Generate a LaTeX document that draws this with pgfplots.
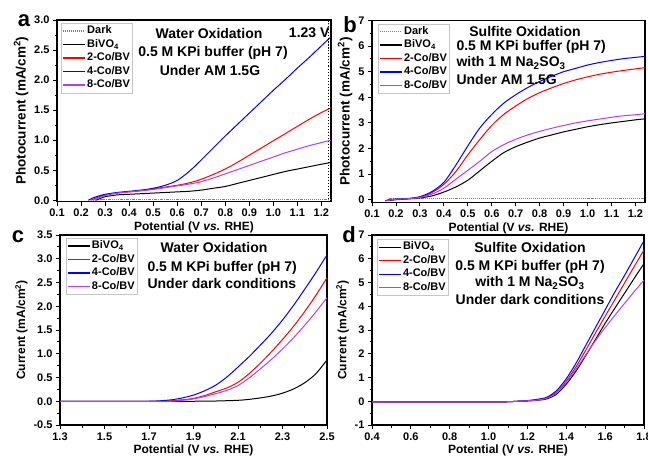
\documentclass[border=0pt]{standalone}
\usepackage{fontspec}
\setmainfont{Liberation Sans}
\usepackage{pgfplots}
\pgfplotsset{compat=1.18}
\definecolor{vio}{RGB}{180,60,255}
\pgfplotsset{
  legend image code/.code={\draw[#1, line width=1.3pt] (0pt,0pt) -- (22pt,0pt);},
  sDark/.style={draw=gray, densely dotted, no marks},
  sBi/.style={draw=black, no marks},
  sTwo/.style={draw=red, no marks},
  sFour/.style={draw=blue, no marks},
  sEight/.style={draw=vio, no marks},
  panel/.style={
    scale only axis, anchor=south west,
    axis line style={line width=1.3pt},
    tick style={line width=0.9pt, black},
    major tick length=4pt, minor tick length=2.5pt,
    tick align=outside, xtick pos=bottom, ytick pos=left,
    /pgf/number format/assume math mode=true,
    tick label style={font=\bfseries\fontsize{11}{12}\selectfont},
    label style={font=\bfseries\fontsize{12}{14}\selectfont},
    legend cell align=left,
    legend style={draw=gray!45, line width=0.6pt, font=\bfseries\fontsize{11}{12}\selectfont,
      anchor=north west, inner sep=1pt, row sep=0pt,
      nodes={inner sep=1.5pt, text height=8pt, text depth=2.5pt}},
    every axis plot/.append style={line width=1pt, smooth},
    ylabel style={yshift=-1pt},
    xlabel style={yshift=2pt},
  },
  onedec/.style={/pgf/number format/.cd, fixed, fixed zerofill, precision=1},
}
\newcommand{\ann}{\bfseries\fontsize{14}{16}\selectfont}
\newcommand{\lett}{\bfseries\fontsize{22}{24}\selectfont}
\begin{document}
\begin{tikzpicture}[x=1pt,y=1pt]
\useasboundingbox (0,0) rectangle (648,456);

% ---- a ----
\begin{axis}[panel, at={(57pt,254.5pt)}, width=274pt, height=181.5pt,
  xmin=0.1, xmax=1.24, ymin=-0.02, ymax=3,
  xtick={0.1,0.2,...,1.21}, ytick={0,0.5,...,3}, minor y tick num=1,
  xticklabel style={onedec}, yticklabel style={onedec},
  xlabel={Potential (V \textit{vs.} RHE)},
  ylabel={Photocurrent (mA/cm\textsuperscript{2})},
  ylabel style={font=\bfseries\fontsize{13.5}{15}\selectfont},
  legend style={at={(0.015,0.983)}}]
\addplot[sDark] coordinates {(0.28,0.015) (0.6,0.015) (1.0,0.015) (1.24,0.015)};
\addlegendentry{Dark}
\addplot[sBi] coordinates {(0.26,0) (0.28,0.03) (0.3,0.06) (0.35,0.09) (0.4,0.1) (0.45,0.11) (0.5,0.12) (0.55,0.13) (0.6,0.14) (0.65,0.15) (0.7,0.17) (0.75,0.2) (0.8,0.23) (0.85,0.28) (0.9,0.33) (0.95,0.38) (1.0,0.43) (1.05,0.48) (1.1,0.52) (1.15,0.56) (1.2,0.6) (1.24,0.63)};
\addlegendentry{BiVO\textsubscript{4}}
\addplot[sTwo] coordinates {(0.24,0) (0.27,0.05) (0.3,0.09) (0.35,0.12) (0.4,0.14) (0.45,0.16) (0.5,0.19) (0.55,0.22) (0.6,0.25) (0.65,0.29) (0.7,0.35) (0.75,0.43) (0.8,0.52) (0.85,0.63) (0.9,0.75) (0.95,0.87) (1.0,0.99) (1.05,1.11) (1.1,1.23) (1.15,1.35) (1.2,1.46) (1.24,1.54)};
\addlegendentry{2-Co/BV}
\addplot[sFour] coordinates {(0.23,0) (0.25,0.04) (0.28,0.08) (0.3,0.1) (0.35,0.13) (0.4,0.15) (0.45,0.17) (0.5,0.2) (0.55,0.25) (0.6,0.33) (0.65,0.48) (0.7,0.67) (0.75,0.87) (0.8,1.07) (0.85,1.26) (0.9,1.45) (0.95,1.64) (1.0,1.83) (1.05,2.01) (1.1,2.2) (1.15,2.38) (1.2,2.57) (1.24,2.72)};
\addlegendentry{4-Co/BV}
\addplot[sEight] coordinates {(0.25,0) (0.28,0.05) (0.3,0.08) (0.35,0.12) (0.4,0.14) (0.45,0.16) (0.5,0.18) (0.55,0.21) (0.6,0.24) (0.65,0.27) (0.7,0.31) (0.75,0.37) (0.8,0.44) (0.85,0.51) (0.9,0.58) (0.95,0.65) (1.0,0.72) (1.05,0.79) (1.1,0.85) (1.15,0.91) (1.2,0.96) (1.24,1.0)};
\addlegendentry{8-Co/BV}
\addplot[black, dotted, line width=1pt, no marks, forget plot] coordinates {(1.23,-0.02) (1.23,3)};
\end{axis}

% ---- b ----
\begin{axis}[panel, at={(372pt,253.7pt)}, width=273pt, height=181.8pt,
  xmin=0.1, xmax=1.24, ymin=-0.1, ymax=7,
  xtick={0.1,0.2,...,1.21}, ytick={0,1,...,7}, minor y tick num=1,
  xticklabel style={onedec},
  xlabel={Potential (V \textit{vs.} RHE)},
  ylabel={Photocurrent (mA/cm\textsuperscript{2})},
  ylabel style={font=\bfseries\fontsize{13.5}{15}\selectfont},
  legend style={at={(0.022,0.983)}}]
\addplot[sDark] coordinates {(0.17,0.04) (0.6,0.04) (1.0,0.04) (1.24,0.04)};
\addlegendentry{Dark}
\addplot[sBi] coordinates {(0.17,-0.03) (0.2,0.0) (0.25,0.03) (0.3,0.07) (0.35,0.15) (0.4,0.3) (0.45,0.5) (0.5,0.76) (0.55,1.13) (0.6,1.5) (0.65,1.84) (0.7,2.07) (0.75,2.25) (0.8,2.41) (0.85,2.53) (0.9,2.65) (0.95,2.75) (1.0,2.85) (1.05,2.93) (1.1,3.0) (1.15,3.06) (1.2,3.12) (1.24,3.16)};
\addlegendentry{BiVO\textsubscript{4}}
\addplot[sTwo] coordinates {(0.16,-0.03) (0.2,0.02) (0.25,0.04) (0.3,0.1) (0.35,0.28) (0.4,0.6) (0.45,1.1) (0.5,1.75) (0.55,2.35) (0.6,2.9) (0.65,3.33) (0.7,3.66) (0.75,3.95) (0.8,4.18) (0.85,4.37) (0.9,4.54) (0.95,4.68) (1.0,4.8) (1.05,4.9) (1.1,4.98) (1.15,5.05) (1.2,5.11) (1.24,5.16)};
\addlegendentry{2-Co/BV}
\addplot[sFour] coordinates {(0.155,-0.05) (0.17,0.0) (0.2,0.03) (0.25,0.05) (0.3,0.12) (0.35,0.32) (0.4,0.68) (0.45,1.35) (0.5,2.1) (0.55,2.8) (0.6,3.33) (0.65,3.77) (0.7,4.1) (0.75,4.38) (0.8,4.62) (0.85,4.82) (0.9,5.0) (0.95,5.13) (1.0,5.26) (1.05,5.36) (1.1,5.44) (1.15,5.51) (1.2,5.56) (1.24,5.6)};
\addlegendentry{4-Co/BV}
\addplot[sEight] coordinates {(0.16,-0.03) (0.2,0.02) (0.25,0.04) (0.3,0.09) (0.35,0.22) (0.4,0.45) (0.45,0.8) (0.5,1.15) (0.55,1.5) (0.6,1.88) (0.65,2.15) (0.7,2.36) (0.75,2.53) (0.8,2.67) (0.85,2.79) (0.9,2.9) (0.95,3.0) (1.0,3.08) (1.05,3.15) (1.1,3.22) (1.15,3.28) (1.2,3.32) (1.24,3.36)};
\addlegendentry{8-Co/BV}
\end{axis}

% ---- c ----
\begin{axis}[panel, at={(60pt,31pt)}, width=267pt, height=190pt,
  xmin=1.3, xmax=2.5, ymin=-0.5, ymax=3.5,
  xtick={1.3,1.5,...,2.51}, ytick={-0.5,0,...,3.5}, minor x tick num=1, minor y tick num=1,
  xticklabel style={onedec}, yticklabel style={onedec},
  xlabel={Potential (V \textit{vs.} RHE)}, ylabel={Current (mA/cm\textsuperscript{2})},
  legend style={at={(0.022,0.985)}}]
\addplot[sBi] coordinates {(1.3,0) (1.6,0) (1.9,0) (2.0,0.005) (2.1,0.02) (2.15,0.04) (2.2,0.07) (2.25,0.11) (2.3,0.17) (2.35,0.26) (2.4,0.39) (2.45,0.58) (2.5,0.87)};
\addlegendentry{BiVO\textsubscript{4}}
\addplot[sTwo] coordinates {(1.3,0) (1.6,0) (1.75,0.0) (1.8,0.01) (1.85,0.03) (1.9,0.06) (1.95,0.12) (2.0,0.2) (2.05,0.28) (2.1,0.4) (2.15,0.58) (2.2,0.8) (2.25,1.04) (2.3,1.3) (2.35,1.58) (2.4,1.89) (2.45,2.23) (2.5,2.6)};
\addlegendentry{2-Co/BV}
\addplot[sFour] coordinates {(1.3,0) (1.6,0) (1.7,0.0) (1.75,0.01) (1.8,0.03) (1.85,0.07) (1.9,0.13) (1.95,0.22) (2.0,0.34) (2.05,0.51) (2.1,0.72) (2.15,0.94) (2.2,1.18) (2.25,1.43) (2.3,1.71) (2.35,2.02) (2.4,2.36) (2.45,2.71) (2.5,3.08)};
\addlegendentry{4-Co/BV}
\addplot[sEight] coordinates {(1.3,0) (1.6,0) (1.8,0.0) (1.85,0.02) (1.9,0.05) (1.95,0.1) (2.0,0.16) (2.05,0.23) (2.1,0.33) (2.15,0.49) (2.2,0.68) (2.25,0.88) (2.3,1.1) (2.35,1.34) (2.4,1.6) (2.45,1.88) (2.5,2.18)};
\addlegendentry{8-Co/BV}
\end{axis}

% ---- d ----
\begin{axis}[panel, at={(372pt,31pt)}, width=272pt, height=190pt,
  xmin=0.4, xmax=1.8, ymin=-1, ymax=7,
  xtick={0.4,0.6,...,1.81}, ytick={-1,0,...,7}, minor x tick num=1, minor y tick num=1,
  xticklabel style={onedec},
  xlabel={Potential (V \textit{vs.} RHE)}, ylabel={Current (mA/cm\textsuperscript{2})},
  legend style={at={(0.018,0.978)}}]
\addplot[sBi] coordinates {(0.4,-0.03) (0.8,-0.03) (1.0,-0.03) (1.1,-0.02) (1.15,0.0) (1.2,0.01) (1.25,0.04) (1.3,0.1) (1.35,0.3) (1.4,0.72) (1.45,1.27) (1.5,1.92) (1.55,2.6) (1.6,3.28) (1.65,3.92) (1.7,4.55) (1.75,5.18) (1.8,5.8)};
\addlegendentry{BiVO\textsubscript{4}}
\addplot[sTwo] coordinates {(0.4,-0.03) (0.8,-0.03) (1.0,-0.03) (1.1,-0.02) (1.15,0.0) (1.2,0.02) (1.25,0.06) (1.3,0.14) (1.35,0.38) (1.4,0.85) (1.45,1.45) (1.5,2.15) (1.55,2.87) (1.6,3.58) (1.65,4.28) (1.7,4.98) (1.75,5.68) (1.8,6.37)};
\addlegendentry{2-Co/BV}
\addplot[sFour] coordinates {(0.4,-0.03) (0.8,-0.03) (1.0,-0.03) (1.1,-0.02) (1.15,0.0) (1.2,0.03) (1.25,0.08) (1.3,0.17) (1.35,0.45) (1.4,0.95) (1.45,1.6) (1.5,2.35) (1.55,3.1) (1.6,3.85) (1.65,4.6) (1.7,5.3) (1.75,6.03) (1.8,6.76)};
\addlegendentry{4-Co/BV}
\addplot[sEight] coordinates {(0.4,-0.03) (0.8,-0.03) (1.0,-0.03) (1.1,-0.02) (1.15,0.0) (1.2,0.02) (1.25,0.05) (1.3,0.13) (1.35,0.35) (1.4,0.8) (1.45,1.35) (1.5,1.95) (1.55,2.55) (1.6,3.1) (1.65,3.62) (1.7,4.12) (1.75,4.62) (1.8,5.1)};
\addlegendentry{8-Co/BV}
\end{axis}

% ---- annotations ----
\node[font=\ann] at (209,423) {Water Oxidation};
\node[font=\ann] at (213,403) {0.5 M KPi buffer (pH 7)};
\node[font=\ann] at (210,386) {Under AM 1.5G};
\node[font=\ann, anchor=east] at (333,423) {1.23 V};

\node[font=\ann] at (525,425) {Sulfite Oxidation};
\node[font=\ann, anchor=west] at (453,409) {0.5 M KPi buffer (pH 7)};
\node[font=\ann, anchor=west] at (453,393) {with 1 M Na\textsubscript{2}SO\textsubscript{3}};
\node[font=\ann, anchor=west] at (453,377) {Under AM 1.5G};

\node[font=\ann] at (214,209) {Water Oxidation};
\node[font=\ann, anchor=west] at (144,188) {0.5 M KPi buffer (pH 7)};
\node[font=\ann, anchor=west] at (144,173) {Under dark conditions};

\node[font=\ann] at (530,209) {Sulfite Oxidation};
\node[font=\ann] at (530,189) {0.5 M KPi buffer (pH 7)};
\node[font=\ann] at (530,173) {with 1 M Na\textsubscript{2}SO\textsubscript{3}};
\node[font=\ann] at (530,157) {Under dark conditions};

\node[font=\lett] at (24,435) {a};
\node[font=\lett] at (350,431) {b};
\node[font=\lett] at (18,219) {c};
\node[font=\lett] at (349,221) {d};
\end{tikzpicture}
\end{document}
